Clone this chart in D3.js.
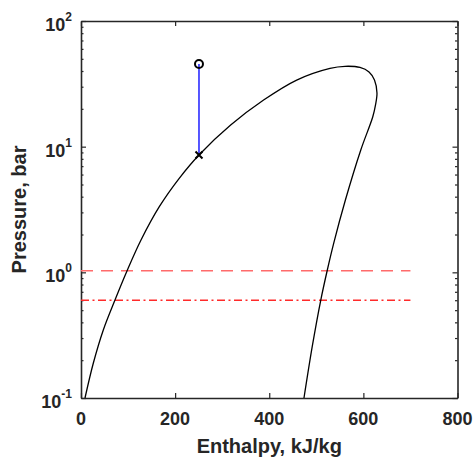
<!DOCTYPE html>
<html>
<head>
<meta charset="utf-8">
<script src="https://cdn.jsdelivr.net/npm/d3@7"></script>
<style>
  body { margin: 0; background: #fff; }
  text { font-family: "Liberation Sans", Arial, Helvetica, sans-serif; font-weight: bold; fill: #262626; }
</style>
</head>
<body>
<div id="chart"></div>
<script>
// Saturation dome (liquid side up, over the top, vapour side down)
const domeH = [8.5, 26.1, 47.4, 72.2, 97.7, 127.5, 166.4, 208.7, 250.7, 318.0, 388.0, 458.3, 529.1, 561.0, 592.8, 612.0, 623.6, 628.9, 625.8, 620.0, 594.5, 561.8, 536.9, 523.4, 509.5, 491.3, 473.8];
const domeP = [0.1, 0.189, 0.348, 0.602, 1.025, 1.808, 3.33, 5.6, 8.59, 14.87, 23.5, 33.9, 42.0, 43.6, 42.7, 39.3, 33.9, 26.7, 21.5, 17.3, 9.41, 3.76, 1.70, 1.044, 0.602, 0.256, 0.1];

// Process line (vertical, constant enthalpy)
const processH = [250.7, 250.7];
const processP = [45.5, 8.59];

// Horizontal reference pressures
const refLines = [
    { p: 1.03, h0: 0, h1: 700, dash: "12,8", color: "#ff6b6b" },
    { p: 0.6, h0: 0, h1: 700, dash: "8,3.5,2,3.5", color: "#ff2a2a" }
];

const xTicks = [0, 200, 400, 600, 800];
const yTicks = [0.1, 1, 10, 100];
const yExp = ["-1", "0", "1", "2"];

const width = 473, height = 457;
const margin = { left: 81, right: 15.5, top: 21, bottom: 59 };

const svg = d3.select("#chart").append("svg")
    .attr("width", width)
    .attr("height", height);

const x = d3.scaleLinear().domain([0, 800]).range([margin.left, width - margin.right]);
const y = d3.scaleLog().domain([0.1, 100]).range([height - margin.bottom, margin.top]);

// minor log ticks
const yMinor = [];
[0.1, 1, 10].forEach(d => { for (let k = 2; k <= 9; k++) yMinor.push(d * k); });

const axisColor = "#262626";

function styleAxis(g) {
    g.selectAll("path").attr("stroke", axisColor).attr("stroke-width", 1.6);
    g.selectAll("line").attr("stroke", axisColor).attr("stroke-width", 1.2);
    g.selectAll("text").remove();
}

// box + major ticks
svg.append("g").attr("transform", `translate(0,${y(0.1)})`)
    .call(d3.axisBottom(x).tickValues(xTicks).tickSizeInner(-5).tickSizeOuter(0)).call(styleAxis);
svg.append("g").attr("transform", `translate(0,${y(100)})`)
    .call(d3.axisTop(x).tickValues(xTicks).tickSizeInner(-5).tickSizeOuter(0)).call(styleAxis);
svg.append("g").attr("transform", `translate(${x(0)},0)`)
    .call(d3.axisLeft(y).tickValues(yTicks).tickSizeInner(-5).tickSizeOuter(0)).call(styleAxis);
svg.append("g").attr("transform", `translate(${x(800)},0)`)
    .call(d3.axisRight(y).tickValues(yTicks).tickSizeInner(-5).tickSizeOuter(0)).call(styleAxis);

// minor ticks
svg.append("g").attr("transform", `translate(${x(0)},0)`)
    .call(d3.axisLeft(y).tickValues(yMinor).tickSizeInner(-2.5).tickSizeOuter(0))
    .call(g => g.select("path").remove()).call(styleAxis);
svg.append("g").attr("transform", `translate(${x(800)},0)`)
    .call(d3.axisRight(y).tickValues(yMinor).tickSizeInner(-2.5).tickSizeOuter(0))
    .call(g => g.select("path").remove()).call(styleAxis);

// x tick labels
svg.append("g").selectAll("text")
    .data(xTicks)
    .join("text")
    .attr("x", d => x(d))
    .attr("y", y(0.1) + 27)
    .attr("text-anchor", "middle")
    .attr("font-size", 18)
    .text(d => d);

// y tick labels with superscripts
const yLab = svg.append("g").selectAll("g")
    .data(yTicks)
    .join("g")
    .attr("transform", d => `translate(72,${y(d)})`);
yLab.append("text")
    .attr("class", "exp")
    .attr("text-anchor", "end")
    .attr("y", 0)
    .attr("font-size", 12)
    .text((d, i) => yExp[i]);
yLab.append("text")
    .attr("class", "base")
    .attr("y", 10)
    .attr("font-size", 18)
    .text("10");
// place base left of the exponent
yLab.each(function () {
    const g = d3.select(this);
    const expW = g.select(".exp").node().getComputedTextLength();
    g.select(".base").attr("x", -expW).attr("text-anchor", "end");
});

// axis labels
svg.append("text")
    .attr("x", (x(0) + x(800)) / 2)
    .attr("y", 453)
    .attr("text-anchor", "middle")
    .attr("font-size", 20)
    .text("Enthalpy, kJ/kg");

svg.append("text")
    .attr("transform", `translate(26,${(y(0.1) + y(100)) / 2}) rotate(-90)`)
    .attr("text-anchor", "middle")
    .attr("font-size", 20)
    .text("Pressure, bar");

// reference pressure lines
svg.append("g").selectAll("line")
    .data(refLines)
    .join("line")
    .attr("x1", d => x(d.h0))
    .attr("x2", d => x(d.h1))
    .attr("y1", d => y(d.p))
    .attr("y2", d => y(d.p))
    .attr("stroke", d => d.color)
    .attr("stroke-width", 1.5)
    .attr("stroke-dasharray", d => d.dash);

// saturation dome
const domeLine = d3.line()
    .x(d => x(d[0]))
    .y(d => y(d[1]))
    .curve(d3.curveCatmullRom.alpha(0.5));

svg.append("path")
    .datum(d3.zip(domeH, domeP))
    .attr("d", domeLine)
    .attr("fill", "none")
    .attr("stroke", "#000")
    .attr("stroke-width", 1.3);

// process line
svg.append("path")
    .datum(d3.zip(processH, processP))
    .attr("d", d3.line().x(d => x(d[0])).y(d => y(d[1])))
    .attr("fill", "none")
    .attr("stroke", "#1f1fff")
    .attr("stroke-width", 1.5);

// start marker (circle) and end marker (cross)
svg.append("circle")
    .attr("cx", x(processH[0]))
    .attr("cy", y(processP[0]))
    .attr("r", 4)
    .attr("fill", "none")
    .attr("stroke", "#000")
    .attr("stroke-width", 2);

const cx = x(processH[1]), cy = y(processP[1]), s = 3.5;
svg.append("path")
    .attr("d", `M${cx - s},${cy - s}L${cx + s},${cy + s}M${cx - s},${cy + s}L${cx + s},${cy - s}`)
    .attr("stroke", "#000")
    .attr("stroke-width", 2);
</script>
</body>
</html>
